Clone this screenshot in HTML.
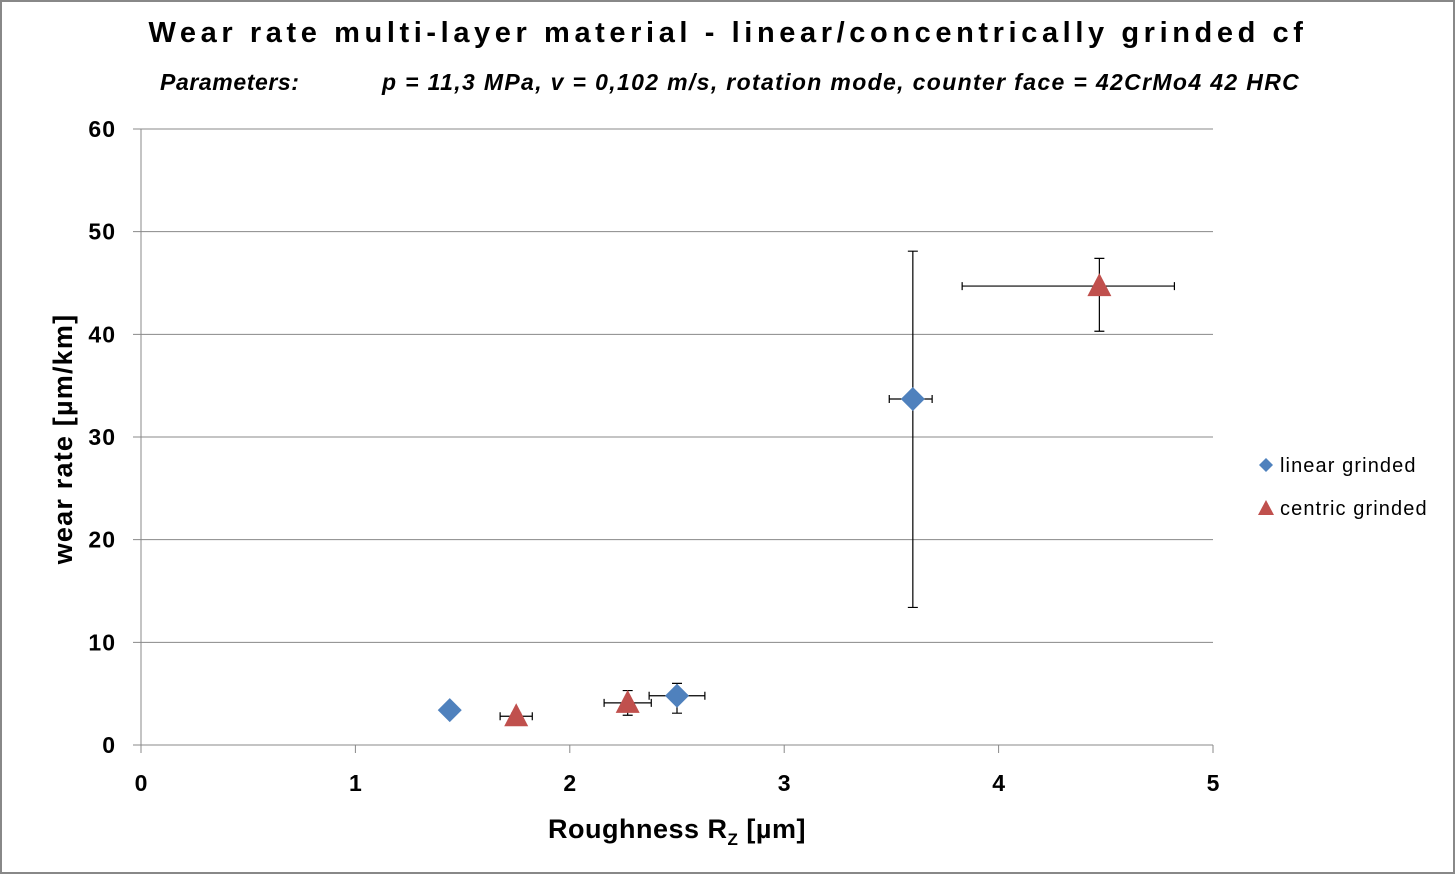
<!DOCTYPE html>
<html><head><meta charset="utf-8"><style>
html,body{margin:0;padding:0;background:#fff}
svg{display:block;font-family:"Liberation Sans",sans-serif}
</style></head><body>
<svg id="c" width="1455" height="874">
<rect x="1" y="1" width="1453" height="872" fill="#fff" stroke="#888" stroke-width="2"/>
<text x="728" y="42" text-anchor="middle" font-size="29" font-weight="bold" letter-spacing="4.6">Wear rate multi-layer material - linear/concentrically grinded cf</text>
<text x="160" y="90" font-size="23" font-weight="bold" font-style="italic" letter-spacing="0.6">Parameters:</text>
<text x="382" y="90" font-size="23" font-weight="bold" font-style="italic" letter-spacing="1.35">p = 11,3 MPa, v = 0,102 m/s, rotation mode, counter face = 42CrMo4 42 HRC</text>
<g id="grid"></g><g id="marks"></g>
<text transform="translate(72,439) rotate(-90)" text-anchor="middle" font-size="27" font-weight="bold" letter-spacing="1.2">wear rate [µm/km]</text>
<text x="677" y="838" text-anchor="middle" font-size="27" font-weight="bold" letter-spacing="0.5">Roughness R<tspan font-size="17" dy="7">Z</tspan><tspan dy="-7"> [µm]</tspan></text>
<g>
<path d="M1266 458 L1273 465 L1266 472 L1259 465 Z" fill="#4f81bd"/>
<text x="1280" y="472" font-size="20" letter-spacing="1.1">linear grinded</text>
<path d="M1266 500 L1274 515 L1258 515 Z" fill="#c0504d"/>
<text x="1280" y="515" font-size="20" letter-spacing="1.1">centric grinded</text>
</g>
</svg>
<script>
const xTicks=[0,1,2,3,4,5];
const yTicks=[0,10,20,30,40,50,60];
const linX=[1.44,2.50,3.60];
const linY=[3.4,4.8,33.7];
const linXErrMinus=[0,0.13,0.11];
const linXErrPlus=[0,0.13,0.09];
const linYErrMinus=[0,1.7,20.3];
const linYErrPlus=[0,1.2,14.4];
const cenX=[1.75,2.27,4.47];
const cenY=[2.8,4.1,44.7];
const cenXErrMinus=[0.075,0.11,0.64];
const cenXErrPlus=[0.075,0.11,0.35];
const cenYErrMinus=[0.3,1.2,4.4];
const cenYErrPlus=[0.3,1.2,2.7];
const X0=141,X1=1213,Y0=745,Y1=129;
const sx=v=>X0+(X1-X0)*v/5, sy=v=>Y0-(Y0-Y1)*v/60;
const NS="http://www.w3.org/2000/svg";
function mk(t,a,p){const e=document.createElementNS(NS,t);for(const k in a)e.setAttribute(k,a[k]);p.appendChild(e);return e;}
const g=document.getElementById('grid'),m=document.getElementById('marks');
yTicks.forEach(v=>{
 const l=mk('line',{x1:X0-8,x2:X1,y1:sy(v),y2:sy(v),stroke:'#888','stroke-width':1},g);
 
 
 const t=mk('text',{x:116,y:sy(v)+8,'text-anchor':'end','font-size':23,'font-weight':'bold','letter-spacing':1},g);t.textContent=v;
 
 
});
const ax=mk('line',{x1:X0,x2:X0,y1:Y1,y2:Y0,stroke:'#888'},g);


xTicks.forEach(v=>{
 const l=mk('line',{x1:sx(v),x2:sx(v),y1:Y0,y2:Y0+8,stroke:'#888'},g);
 
 
 const t=mk('text',{x:sx(v),y:791,'text-anchor':'middle','font-size':23,'font-weight':'bold'},g);t.textContent=v;
 
 
});
function errs(xs,ys,xm,xp,ym,yp){
 xs.forEach((x,i)=>{
  const cx=sx(x),cy=sy(ys[i]);
  if(xm[i]||xp[i]){const a=sx(x-xm[i]),b=sx(x+xp[i]);
   const e=mk('path',{d:`M${a} ${cy}H${b}M${a} ${cy-4}V${cy+4}M${b} ${cy-4}V${cy+4}`,stroke:'#000','stroke-width':1.2,fill:'none'},m);
   
   }
  if(ym[i]||yp[i]){const a=sy(ys[i]-ym[i]),b=sy(ys[i]+yp[i]);
   const e=mk('path',{d:`M${cx} ${a}V${b}M${cx-5} ${a}H${cx+5}M${cx-5} ${b}H${cx+5}`,stroke:'#000','stroke-width':1.2,fill:'none'},m);
   
   }
 });
}
errs(linX,linY,linXErrMinus,linXErrPlus,linYErrMinus,linYErrPlus);
errs(cenX,cenY,cenXErrMinus,cenXErrPlus,cenYErrMinus,cenYErrPlus);
linX.forEach((x,i)=>{const cx=sx(x),cy=sy(linY[i]);
 const p=mk('path',{d:`M${cx} ${cy-12}L${cx+12} ${cy}L${cx} ${cy+12}L${cx-12} ${cy}Z`,fill:'#4f81bd'},m);
 
 });
cenX.forEach((x,i)=>{const cx=sx(x),cy=sy(cenY[i]);
 const p=mk('path',{d:`M${cx} ${cy-13}L${cx+12} ${cy+10}L${cx-12} ${cy+10}Z`,fill:'#c0504d'},m);
 
 });
</script>
</body></html>
